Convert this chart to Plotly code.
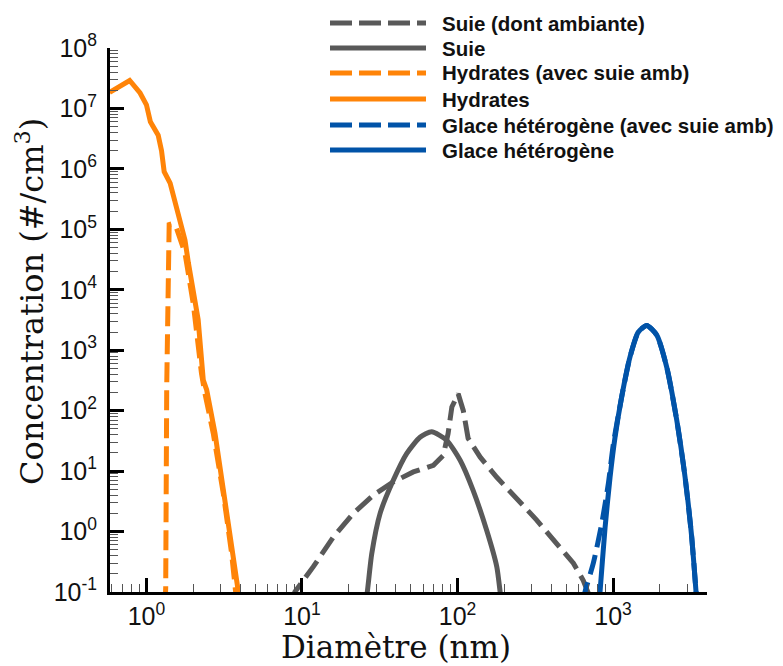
import plotly.graph_objects as go
import numpy as np

# ---------------- data ----------------
suie_amb_x = [8.6, 9.0, 11.8, 15.9, 21.4, 28.8, 38.6, 52, 70, 81, 87, 92, 101, 109, 117, 140, 179, 240, 323, 434, 556, 644, 700]
suie_amb_y = [0.07, 0.1, 0.26, 0.81, 2.0, 4.0, 6.6, 9.7, 12.5, 18.2, 41.7, 115, 190, 100, 35, 17, 7.9, 3.5, 1.55, 0.63, 0.30, 0.155, 0.09]

suie_x = [25.5, 26.3, 28.1, 31.8, 38.7, 47.1, 57.4, 68.2, 85.2, 104, 126, 154, 179, 188, 194]
suie_y = [0.06, 0.1, 0.43, 2.0, 7.1, 19.5, 36.3, 44.7, 32.4, 15.1, 4.8, 1.05, 0.26, 0.1, 0.05]

hyd_amb_x = [1.30, 1.31, 1.33, 1.35, 1.38, 1.40, 1.48, 1.56, 1.77, 2.0, 2.26, 2.38, 2.69, 3.12, 3.53, 3.71, 3.8]
hyd_amb_y = [0.02, 0.05, 0.12, 250, 1.1e4, 1.2e5, 1.25e5, 1.05e5, 4.0e4, 5.9e3, 410, 190, 42, 4.3, 0.43, 0.12, 0.07]

hyd_x = [0.58, 0.78, 0.91, 1.0, 1.06, 1.19, 1.25, 1.30, 1.42, 1.52, 1.64, 1.77, 1.86, 2.15, 2.32, 2.44, 2.76, 3.2, 3.62, 3.84, 3.95]
hyd_y = [1.85e7, 2.9e7, 1.8e7, 1.15e7, 6.0e6, 3.6e6, 2.0e6, 9.0e5, 5.8e5, 3.0e5, 1.4e5, 6.6e4, 2.8e4, 3.2e3, 320, 220, 42, 3.3, 0.33, 0.14, 0.08]

glace_amb_x = [640, 660, 747, 846, 933, 1005, 1137, 1286, 1455, 1648, 1911, 2214, 2570, 2906, 3205, 3418, 3480]
glace_amb_y = [0.07, 0.1, 0.30, 1.35, 6.2, 28, 170, 776, 2000, 2570, 1780, 525, 69, 7.9, 0.81, 0.1, 0.05]

glace_x = [810, 825, 889, 957, 1030, 1137, 1286, 1455, 1648, 1911, 2214, 2570, 2906, 3205, 3418, 3480]
glace_y = [0.05, 0.1, 1.17, 7.9, 36.3, 170, 776, 2000, 2570, 1780, 525, 69, 7.9, 0.81, 0.1, 0.05]

series_names = ["Suie (dont ambiante)", "Suie", "Hydrates (avec suie amb)",
                "Hydrates", "Glace hétérogène (avec suie amb)", "Glace hétérogène"]

y_tick_exps = [-1, 0, 1, 2, 3, 4, 5, 6, 7, 8]
x_tick_exps = [0, 1, 2, 3]

# ---------------- styles ----------------
GRAY = "#595959"
ORANGE = "#ff8408"
BLUE = "#0153a8"
DASH = "20px,8px"
LW = 5

series = [
    (suie_amb_x, suie_amb_y, GRAY, DASH, "linear"),
    (suie_x, suie_y, GRAY, "solid", "spline"),
    (hyd_amb_x, hyd_amb_y, ORANGE, DASH, "linear"),
    (hyd_x, hyd_y, ORANGE, "solid", "linear"),
    (glace_amb_x, glace_amb_y, BLUE, DASH, "spline"),
    (glace_x, glace_y, BLUE, "solid", "spline"),
]

fig = go.Figure()
for (xs, ys, col, dash, shape), name in zip(series, series_names):
    fig.add_trace(go.Scatter(
        x=xs, y=ys, mode="lines", name=name, showlegend=False,
        line=dict(color=col, width=LW, dash=dash, shape=shape,
                  smoothing=0.6 if shape == "spline" else None),
    ))

# ---------------- geometry ----------------
W, H = 783, 666
L, R, T, B = 110, 76, 48, 74
pw, ph = W - L - R, H - T - B

def px_to_paper_x(px):
    return (px - L) / pw

def py_to_paper_y(py):
    return (H - B - py) / ph

# manual legend (long line samples like the reference)
legend_rows = [23, 48, 73, 99, 125, 150]
legend_styles = [(GRAY, "dash"), (GRAY, "solid"), (ORANGE, "dash"),
                 (ORANGE, "solid"), (BLUE, "dash"), (BLUE, "solid")]
for row, (col, d), name in zip(legend_rows, legend_styles, series_names):
    yy = py_to_paper_y(row)
    fig.add_shape(type="line", xref="paper", yref="paper",
                  x0=px_to_paper_x(330), x1=px_to_paper_x(426), y0=yy, y1=yy,
                  line=dict(color=col, width=LW, dash="22px,7px" if d == "dash" else "solid"))
    fig.add_annotation(x=px_to_paper_x(440), y=yy, xref="paper", yref="paper",
                       text=name, showarrow=False, xanchor="left", yanchor="middle",
                       font=dict(family="Liberation Sans, Arial", size=20.5, color="#111111", weight="bold"))

# axis titles as annotations, placed like the reference
TITLE_FONT = dict(family="DejaVu Serif", size=31, color="#111111")
fig.add_annotation(x=px_to_paper_x(396), y=py_to_paper_y(666), xref="paper", yref="paper",
                   text="Diamètre (nm)", showarrow=False, xanchor="center", yanchor="bottom",
                   borderpad=0, font=TITLE_FONT)
fig.add_annotation(x=px_to_paper_x(30), y=py_to_paper_y(302), xref="paper", yref="paper",
                   text="Concentration (#/cm<sup>3</sup>)", showarrow=False, textangle=-90,
                   xanchor="center", yanchor="middle", font=dict(TITLE_FONT, size=32))

TICK_FONT = dict(family="Liberation Sans, Arial", size=25, color="#111111")

y_major = [10.0 ** e for e in y_tick_exps]
y_text = ["10<sup>%d</sup>" % e for e in y_tick_exps]
y_minor = [m * 10.0 ** e for e in y_tick_exps[:-1] for m in range(2, 10)]

x_major = [10.0 ** e for e in x_tick_exps]
x_text = ["10<sup>%d</sup>" % e for e in x_tick_exps]
x_minor = [m * 10.0 ** e for e in range(-1, 4) for m in range(2, 10)]

fig.update_xaxes(
    type="log", range=[np.log10(0.583), np.log10(4020)],
    showgrid=False, zeroline=False,
    showline=True, linecolor="black", linewidth=3,
    ticks="inside", ticklen=14, tickwidth=2.5, tickcolor="black",
    tickvals=x_major, ticktext=x_text, tickfont=TICK_FONT,
    ticklabelstandoff=0,
    minor=dict(ticks="inside", ticklen=8, tickwidth=1.3, tickcolor="#555555",
               tickvals=x_minor, showgrid=False),
)
fig.update_yaxes(
    type="log", range=[-1, 8],
    showgrid=False, zeroline=False,
    showline=True, linecolor="black", linewidth=3,
    ticks="inside", ticklen=14, tickwidth=2.5, tickcolor="black",
    tickvals=y_major, ticktext=y_text, tickfont=TICK_FONT,
    ticklabelstandoff=5,
    minor=dict(ticks="inside", ticklen=8, tickwidth=1.3, tickcolor="#555555",
               tickvals=y_minor, showgrid=False),
)

fig.update_layout(
    width=W, height=H,
    margin=dict(l=L, r=R, t=T, b=B, pad=0),
    paper_bgcolor="white", plot_bgcolor="white",
    showlegend=False,
)

# remove the default page margin so the 783x666 figure fills the window exactly
fig.write_html(
    "out.html",
    config={"displayModeBar": False},
    post_script="document.body.style.margin='0px';document.body.style.overflow='hidden';",
)
